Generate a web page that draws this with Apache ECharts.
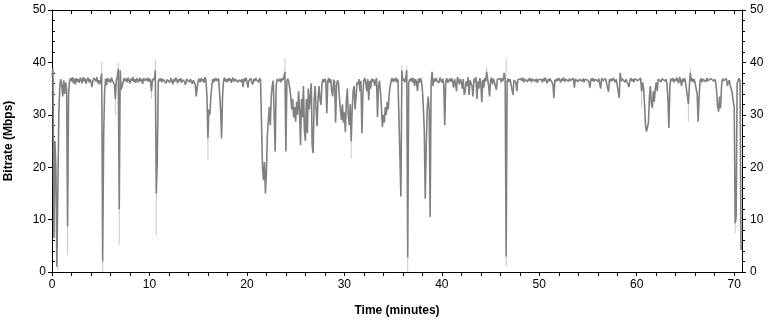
<!DOCTYPE html>
<html>
<head>
<meta charset="UTF-8">
<title>Bitrate over time</title>
<script src="https://cdn.jsdelivr.net/npm/echarts@6/dist/echarts.min.js"></script>
<style>
  html, body { margin: 0; padding: 0; background: #fff; }
  #chart { width: 774px; height: 322px; }
</style>
</head>
<body>
<div id="chart"></div>
<script>
  // bitrate in Mbps, one sample every 0.1 minute (one row = one minute)
  var sampleStep = 0.1;
  var bitrate = [
    37.5, 38.8, 6.5, 25.0, 20.0, 1.0, 1.2, 30.0, 35.5, 36.8,
    35.5, 33.5, 36.6, 34.0, 36.2, 35.0, 8.7, 34.0, 36.4, 37.0,
    36.4, 37.2, 36.0, 36.9, 35.8, 37.0, 36.3, 36.8, 36.1, 37.1,
    36.6, 36.0, 37.2, 36.4, 36.9, 35.9, 36.7, 37.1, 36.2, 36.8,
    36.3, 35.3, 36.5, 37.0, 36.9, 36.4, 37.2, 36.0, 36.6, 35.8,
    36.8, 37.9, 2.0, 26.0, 34.5, 36.9, 35.6, 37.0, 36.3, 36.8,
    36.1, 37.1, 36.5, 36.8, 35.8, 33.0, 36.6, 37.2, 38.8, 12.0,
    38.5, 34.8, 35.5, 36.2, 37.0, 36.4, 36.9, 36.2, 37.1, 36.5,
    36.0, 36.9, 36.5, 37.2, 36.3, 36.8, 36.1, 37.0, 36.6, 36.2,
    37.1, 36.4, 36.8, 35.9, 37.0, 36.5, 36.2, 36.9, 36.4, 37.1,
    36.3, 36.8, 34.5, 36.4, 37.0, 36.6, 38.5, 15.0, 21.0, 36.2,
    36.9, 36.4, 37.0, 36.2, 36.8, 36.5, 37.1, 36.0, 36.7, 36.4,
    36.9, 36.2, 37.0, 36.5, 35.8, 36.8, 36.3, 37.1, 36.6, 36.0,
    36.8, 36.4, 37.0, 36.1, 36.7, 36.9, 36.3, 35.7, 36.8, 36.5,
    37.0, 36.2, 36.8, 36.4, 35.9, 36.6, 36.9, 35.8, 33.5, 35.2,
    36.5, 36.9, 36.2, 37.0, 36.4, 36.8, 36.1, 37.2, 36.6, 33.5,
    25.5, 31.0, 30.0, 33.5, 35.5, 36.8, 36.2, 37.0, 36.5, 36.9,
    36.4, 36.9, 34.0, 31.0, 25.5, 33.5, 36.5, 37.1, 36.3, 36.8,
    36.2, 37.0, 36.5, 36.9, 36.1, 36.7, 37.1, 36.3, 36.8, 36.5,
    36.9, 36.2, 36.7, 37.0, 36.3, 36.8, 35.3, 36.9, 36.4, 37.1,
    36.3, 35.2, 36.5, 36.6, 37.0, 36.2, 35.8, 36.8, 36.4, 37.0,
    36.6, 36.9, 36.2, 37.0, 36.5, 36.8, 20.0, 17.5, 21.0, 15.0,
    19.0, 26.0, 29.0, 31.5, 28.0, 33.5, 35.5, 36.5, 30.0, 23.0,
    35.5, 36.8, 37.1, 36.4, 36.9, 36.2, 37.0, 36.6, 37.2, 38.2,
    23.0, 36.4, 36.9, 36.2, 35.0, 33.5, 31.0, 33.0, 29.5, 31.5,
    28.7, 32.5, 30.0, 34.5, 31.0, 24.2, 33.0, 29.5, 35.5, 27.0,
    25.0, 33.0, 26.5, 35.0, 31.0, 33.5, 36.0, 24.0, 22.7, 33.0,
    35.5, 31.0, 27.8, 33.0, 35.5, 33.0, 31.9, 35.8, 36.8, 36.2,
    36.9, 36.3, 30.3, 36.5, 37.0, 36.1, 36.8, 34.5, 33.5, 36.7,
    36.3, 28.5, 35.5, 36.6, 36.0, 33.0, 31.0, 29.0, 32.0, 28.5,
    30.5, 26.7, 32.5, 35.0, 30.0, 28.0, 32.0, 24.9, 31.0, 34.5,
    35.5, 31.0, 33.5, 36.2, 35.8, 36.8, 34.5, 36.5, 26.5, 34.0,
    36.6, 37.0, 36.2, 34.5, 36.8, 32.8, 36.5, 35.0, 36.9, 36.3,
    36.8, 35.5, 36.4, 37.0, 29.6, 35.5, 36.5, 34.5, 31.5, 27.7,
    30.0, 28.5, 31.5, 30.0, 32.5, 31.0, 34.0, 35.5, 36.5, 37.0,
    36.3, 36.9, 36.4, 37.1, 36.2, 36.8, 36.5, 37.0, 14.4, 38.5,
    36.5, 36.9, 36.2, 37.0, 38.5, 2.7, 36.0, 36.8, 36.4, 37.1,
    36.2, 37.0, 35.5, 36.8, 36.3, 34.5, 36.9, 36.1, 37.0, 36.5,
    35.0, 31.5, 27.0, 14.0, 24.0, 31.0, 33.5, 31.0, 10.5, 36.0,
    38.2, 35.5, 36.9, 36.3, 37.0, 36.5, 36.8, 36.1, 37.1, 36.6,
    36.2, 36.9, 35.5, 28.0, 36.4, 37.0, 36.1, 35.8, 36.9, 36.3,
    37.0, 36.4, 35.2, 36.8, 36.1, 34.5, 37.2, 36.5, 35.8, 36.9,
    36.2, 35.0, 36.8, 33.8, 34.5, 36.4, 35.5, 37.2, 33.8, 36.6,
    36.8, 35.5, 33.5, 36.9, 36.2, 37.2, 33.0, 36.4, 35.0, 37.0,
    36.1, 32.4, 36.7, 35.2, 37.0, 36.3, 38.2, 36.8, 35.5, 33.5,
    36.6, 37.1, 35.8, 36.9, 36.2, 35.4, 34.8, 36.8, 37.1, 36.5,
    36.9, 36.2, 37.0, 36.5, 38.0, 36.8, 2.9, 36.4, 36.9, 36.2,
    36.8, 36.5, 37.1, 33.8, 36.6, 36.9, 36.2, 34.5, 36.7, 37.0,
    36.4, 36.9, 36.5, 37.1, 36.2, 36.8, 36.6, 37.0, 36.3, 36.9,
    36.5, 37.0, 36.2, 36.8, 36.6, 37.1, 36.4, 36.9, 36.1, 36.7,
    37.0, 36.5, 36.8, 36.2, 36.9, 36.4, 37.1, 36.6, 36.0, 36.8,
    36.4, 36.9, 36.6, 37.0, 35.8, 33.2, 36.7, 36.3, 36.9, 36.5,
    37.0, 36.6, 36.2, 36.9, 36.5, 37.1, 36.3, 36.8, 36.6, 37.0,
    36.4, 36.9, 36.5, 36.8, 36.2, 37.0, 35.2, 36.8, 36.5, 36.9,
    36.3, 36.8, 36.6, 37.1, 36.4, 36.9, 36.2, 36.8, 36.5, 37.0,
    36.6, 36.2, 35.2, 36.9, 36.5, 37.0, 36.3, 36.8, 36.6, 36.9,
    36.4, 36.9, 36.6, 35.0, 37.0, 36.5, 36.8, 36.3, 36.9, 36.6,
    37.0, 34.4, 36.8, 36.3, 36.9, 36.5, 37.0, 36.6, 36.2, 36.8,
    36.5, 37.0, 33.2, 38.0, 36.4, 36.9, 36.6, 37.0, 36.2, 36.8,
    36.5, 36.9, 35.3, 36.6, 37.0, 36.4, 36.8, 36.2, 36.9, 36.6,
    37.0, 36.5, 36.8, 36.4, 37.0, 34.5, 36.2, 35.0, 32.0, 28.0,
    26.8, 27.0, 28.5, 33.5, 35.5, 32.0, 31.3, 34.5, 32.5, 35.0,
    36.2, 34.5, 36.8, 36.5, 37.0, 36.3, 36.9, 36.6, 37.1, 36.4,
    36.8, 36.0, 33.0, 27.5, 35.5, 36.9, 36.5, 37.0, 36.2, 36.8,
    36.4, 37.1, 36.6, 36.0, 37.2, 36.5, 35.5, 36.9, 36.3, 37.0,
    36.2, 36.5, 33.5, 32.0, 35.5, 38.0, 36.4, 37.0, 36.2, 36.8,
    36.5, 36.9, 34.0, 28.7, 33.5, 36.4, 37.0, 36.2, 36.8, 36.5,
    36.9, 36.3, 37.0, 36.5, 36.8, 36.2, 36.9, 36.6, 37.1, 36.4,
    36.8, 36.2, 34.5, 31.5, 30.6, 33.5, 31.2, 35.5, 36.9, 36.5,
    36.8, 36.3, 36.9, 35.5, 36.2, 36.6, 35.5, 35.0, 34.0, 32.5,
    31.5, 9.3, 10.5, 36.0, 36.5, 37.0, 36.4, 4.2
  ];

  // light grey peak extremes: time, from value, to value
  var peakTime = [0.6, 1.6, 5.1, 5.2, 6.5, 6.8, 6.9, 10.2, 10.6, 10.7, 16.0, 23.9, 30.7, 35.9, 36.4, 36.5, 44.6, 46.6, 46.6, 60.5, 65.3, 65.5, 70.1];
  var peakFrom = [1.2, 8.7, 37.9, 2.0, 33.0, 38.8, 12.0, 34.5, 38.5, 15.0, 25.5, 38.2, 24.9, 38.5, 38.5, 2.7, 38.2, 37.0, 2.9, 34.5, 32.0, 38.0, 9.3];
  var peakTo = [0.4, 3.3, 40.1, 0.0, 30.0, 40.0, 5.2, 33.0, 40.6, 7.0, 21.4, 40.8, 21.7, 39.5, 39.2, 0.0, 39.2, 40.9, 1.0, 31.3, 28.7, 38.8, 7.4];

  var xMajor = [0, 10, 20, 30, 40, 50, 60, 70];
  var xMax = 70.8;

  var xMinor = [];
  for (var t = 2; t < 70; t += 2) {
    if (t % 10 !== 0) xMinor.push(t);
  }

  var mainData = bitrate.map(function (v, i) {
    return [+(i * sampleStep).toFixed(1), v];
  });

  var peakData = [];
  peakTime.forEach(function (t, i) {
    peakData.push([t, peakFrom[i]], [t, peakTo[i]], [t, '-']);
  });

  var font = '"Liberation Sans", Arial, sans-serif';
  var black = '#000';

  var chart = echarts.init(document.getElementById('chart'));

  chart.setOption({
    animation: false,
    backgroundColor: '#fff',
    grid: { left: 52, right: 32, top: 10, bottom: 50, containLabel: false, outerBoundsMode: 'none' },
    xAxis: [
      {
        type: 'value', position: 'bottom', min: 0, max: xMax,
        name: 'Time (minutes)', nameLocation: 'middle', nameGap: 33,
        nameTextStyle: { fontFamily: font, fontSize: 12, fontWeight: 'bold', color: black },
        axisLine: { show: true, onZero: false, lineStyle: { color: black, width: 1 } },
        axisTick: { show: true, customValues: xMajor, length: 4, lineStyle: { color: black } },
        axisLabel: { customValues: xMajor, margin: 7, color: black, fontSize: 12, fontFamily: font },
        splitLine: { show: false }
      },
      {
        type: 'value', position: 'bottom', min: 0, max: xMax,
        axisLine: { show: false, onZero: false },
        axisTick: { show: true, customValues: xMinor, length: 4, lineStyle: { color: black } },
        axisLabel: { show: false },
        splitLine: { show: false }
      },
      {
        type: 'value', position: 'top', min: 0, max: xMax,
        axisLine: { show: true, onZero: false, lineStyle: { color: black, width: 1 } },
        axisTick: { show: true, inside: true, customValues: xMajor.concat(xMinor), length: 4, lineStyle: { color: black } },
        axisLabel: { show: false },
        splitLine: { show: false }
      }
    ],
    yAxis: [
      {
        type: 'value', position: 'left', min: 0, max: 50, interval: 10,
        name: 'Bitrate (Mbps)', nameLocation: 'middle', nameGap: 37,
        nameTextStyle: { fontFamily: font, fontSize: 12, fontWeight: 'bold', color: black },
        axisLine: { show: true, onZero: false, lineStyle: { color: black, width: 1 } },
        axisTick: { show: true, length: 4, lineStyle: { color: black } },
        axisLabel: { margin: 6, color: black, fontSize: 12, fontFamily: font },
        splitLine: { show: false }
      },
      {
        type: 'value', position: 'left', min: 0, max: 50, interval: 10,
        axisLine: { show: false, onZero: false },
        axisTick: { show: false, inside: true },
        minorTick: { show: true, splitNumber: 5, length: 3, lineStyle: { color: black } },
        axisLabel: { show: false },
        splitLine: { show: false }
      },
      {
        type: 'value', position: 'right', min: 0, max: 50, interval: 10,
        axisLine: { show: true, onZero: false, lineStyle: { color: black, width: 1 } },
        axisTick: { show: true, length: 4, lineStyle: { color: black } },
        minorTick: { show: true, splitNumber: 5, length: 3, lineStyle: { color: black } },
        axisLabel: { margin: 8, color: black, fontSize: 12, fontFamily: font },
        splitLine: { show: false }
      }
    ],
    series: [
      {
        name: 'Peak',
        type: 'line',
        xAxisIndex: 0, yAxisIndex: 0,
        data: peakData,
        showSymbol: false,
        silent: true,
        z: 1,
        lineStyle: { color: '#c8c8c8', width: 1 }
      },
      {
        name: 'Bitrate',
        type: 'line',
        xAxisIndex: 0, yAxisIndex: 0,
        data: mainData,
        showSymbol: false,
        z: 2,
        lineStyle: { color: '#808080', width: 1.6 }
      }
    ]
  });
</script>
</body>
</html>
